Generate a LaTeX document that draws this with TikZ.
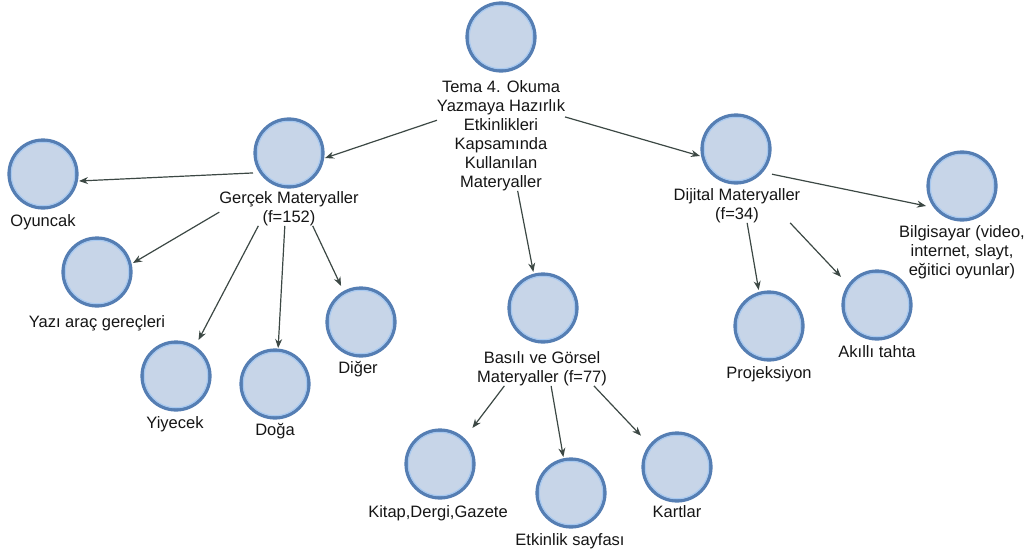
\documentclass[tikz,border=0pt]{standalone}
\usepackage{fontspec}
\setmainfont{Liberation Sans}
\usetikzlibrary{arrows.meta,calc}
\definecolor{cfill}{HTML}{C7D5E8}
\definecolor{cring}{HTML}{557EB3}
\definecolor{clight}{HTML}{A6C8F0}
\definecolor{cedge}{HTML}{3C4844}
\definecolor{ctext}{HTML}{151515}
\tikzset{
  bub/.style={rectangle, minimum size=72pt, inner sep=0pt, outer sep=0pt,
    path picture={
      \fill[cfill] (path picture bounding box.center) circle (34pt);
      \draw[cring, line width=3.4pt] (path picture bounding box.center) circle (33.9pt);
      \draw[clight, line width=1.1pt] (path picture bounding box.center) circle (31.7pt);
    }},
  lbl/.style={anchor=north, inner sep=0pt, outer sep=0pt, align=center, text=ctext,
    font=\fontsize{16.5}{19}\selectfont},
  edge/.style={draw=cedge, line width=1.2pt, -{Stealth[length=9pt,width=7pt]}}
}
\begin{document}
\begin{tikzpicture}[x=1pt,y=-1pt]
\useasboundingbox (0,0) rectangle (1035,551);
% circles
\node[bub] (root) at (501,37) {};
\node[bub] (gercek) at (289,153) {};
\node[bub] (oyuncak) at (43,174) {};
\node[bub] (yazi) at (97,272) {};
\node[bub] (yiyecek) at (176,376) {};
\node[bub] (doga) at (275,384) {};
\node[bub] (diger) at (361,322) {};
\node[bub] (basili) at (543,308) {};
\node[bub] (kitap) at (440,464) {};
\node[bub] (etkinlik) at (571,493) {};
\node[bub] (kartlar) at (677,467) {};
\node[bub] (dijital) at (736,149) {};
\node[bub] (bilgisayar) at (962,186) {};
\node[bub] (projeksiyon) at (769,326) {};
\node[bub] (akilli) at (877,305) {};
% labels
\node[lbl] (rootlbl) at (501,80.5) {Tema 4. Okuma\\Yazmaya Hazırlık\\Etkinlikleri\\Kapsamında\\Kullanılan\\Materyaller};
\node[lbl] (gerceklbl) at (289,191.5) {Gerçek Materyaller\\(f=152)};
\node[lbl] (oyuncaklbl) at (43,214.5) {Oyuncak};
\node[lbl] (yazilbl) at (97,315.5) {Yazı araç gereçleri};
\node[lbl] (yiyeceklbl) at (175,416.5) {Yiyecek};
\node[lbl] (dogalbl) at (275,423.5) {Doğa};
\node[lbl] (digerlbl) at (358,361.5) {Diğer};
\node[lbl] (basililbl) at (542,351.5) {Basılı ve Görsel\\Materyaller (f=77)};
\node[lbl] (kitaplbl) at (438,505.5) {Kitap,Dergi,Gazete};
\node[lbl] (etkinliklbl) at (570,533.5) {Etkinlik sayfası};
\node[lbl] (kartlarlbl) at (677,505.5) {Kartlar};
\node[lbl] (dijitallbl) at (737,188.5) {Dijital Materyaller\\(f=34)};
\node[lbl] (bilgisayarlbl) at (962,225.5) {Bilgisayar (video,\\internet, slayt,\\eğitici oyunlar)};
\node[lbl] (projeksiyonlbl) at (769,366.5) {Projeksiyon};
\node[lbl] (akillilbl) at (877,345.5) {Akıllı tahta};
% edges from root
\draw[edge] ($(rootlbl.north west)!0.36!(rootlbl.south west)$) -- (gercek.-8);
\draw[edge] ($(rootlbl.north east)!0.33!(rootlbl.south east)$) -- (dijital.191.6);
\draw[edge] ($(rootlbl.south west)!0.63!(rootlbl.south east)$) -- (basili.105.9);
% edges from Gercek
\draw[edge] (gercek.209) -- (oyuncak.-11.6);
\draw[edge] ($(gerceklbl.north west)!0.6!(gerceklbl.south west)$) -- (yazi.14.7);
\draw[edge] ($(gerceklbl.south west)!0.28!(gerceklbl.south east)$) -- (yiyecek.58.4);
\draw[edge] ($(gerceklbl.south west)!0.47!(gerceklbl.south east)$) -- (doga.85.8);
\draw[edge] ($(gerceklbl.south west)!0.67!(gerceklbl.south east)$) -- (diger.119.6);
% edges from Dijital
\draw[edge] (dijital.-35) -- (bilgisayar.209.6);
\draw[edge] ($(dijitallbl.south west)!0.58!(dijitallbl.south east)$) -- (projeksiyon.106.1);
\draw[edge] ($(dijitallbl.south west)!0.92!(dijitallbl.south east)$) -- (akilli.142.9);
% edges from Basili
\draw[edge] ($(basililbl.south west)!0.21!(basililbl.south east)$) -- (kitap.48.3);
\draw[edge] ($(basililbl.south west)!0.57!(basililbl.south east)$) -- (etkinlik.102.5);
\draw[edge] ($(basililbl.south west)!0.9!(basililbl.south east)$) -- (kartlar.139.1);
\end{tikzpicture}
\end{document}
